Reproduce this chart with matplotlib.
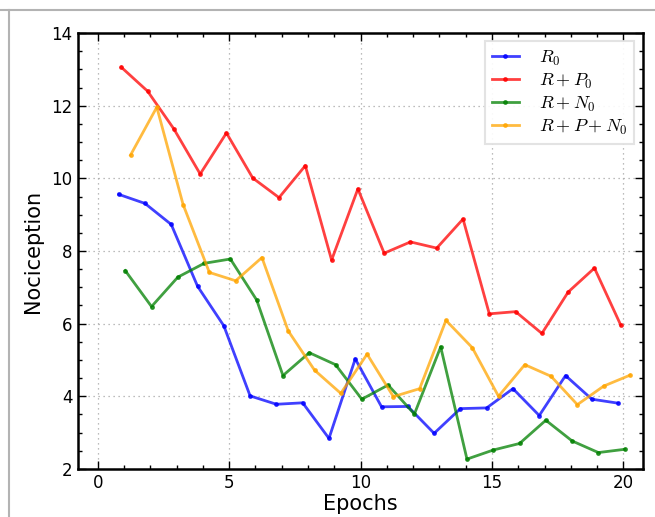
import matplotlib
matplotlib.use("Agg")
import matplotlib.pyplot as plt
from matplotlib.lines import Line2D
from matplotlib.ticker import MultipleLocator
import numpy as np

# values
r0 = [9.56, 9.31, 8.73, 7.03, 5.94, 4.01, 3.78, 3.82, 2.84, 5.03,
      3.71, 3.72, 2.98, 3.66, 3.68, 4.21, 3.47, 4.57, 3.92, 3.81]
r_p0 = [13.06, 12.40, 11.36, 10.12, 11.25, 10.01, 9.47, 10.35, 7.75, 9.71,
        7.94, 8.25, 8.08, 8.88, 6.27, 6.33, 5.73, 6.87, 7.53, 5.96]
r_n0 = [7.46, 6.47, 7.28, 7.66, 7.78, 6.65, 4.57, 5.20, 4.87, 3.92,
        4.31, 3.51, 5.36, 2.27, 2.52, 2.70, 3.34, 2.77, 2.45, 2.54]
r_p_n0 = [10.64, 11.96, 9.28, 7.41, 7.18, 7.82, 5.80, 4.72, 4.08, 5.16,
          3.99, 4.21, 6.09, 5.34, 4.00, 4.87, 4.55, 3.77, 4.28, 4.58]

epochs = np.arange(20)
# each run is drawn slightly shifted along the epoch axis
offsets = [0.8, 0.9, 1.05, 1.25]
series = [r0, r_p0, r_n0, r_p_n0]
labels = [r'$R_0$', r'$R+P_0$', r'$R+N_0$', r'$R+P+N_0$']
colors = ['blue', 'red', 'green', 'orange']

plt.rcParams['mathtext.fontset'] = 'cm'

fig = plt.figure(figsize=(6.55, 5.17), dpi=100)
ax = fig.add_axes([0.119, 0.093, 0.862, 0.843])

for ys, off, lab, c in zip(series, offsets, labels, colors):
    ax.plot(epochs + off, ys, color=c, alpha=0.75, lw=2, marker='.',
            markersize=5, label=lab)

ax.set_xlim(-0.75, 20.73)
ax.set_ylim(2, 14)
ax.xaxis.set_major_locator(MultipleLocator(5))
ax.xaxis.set_minor_locator(MultipleLocator(1))
ax.yaxis.set_major_locator(MultipleLocator(2))
ax.yaxis.set_minor_locator(MultipleLocator(0.5))
ax.tick_params(which='both', direction='in', top=True, right=True,
               labelsize=12, pad=4)
ax.tick_params(which='major', length=5.5, width=1)
ax.tick_params(which='minor', length=3, width=1)
for sp in ax.spines.values():
    sp.set_linewidth(1.8)
ax.grid(True, linestyle=(0, (1, 3)), color='0.65', linewidth=0.9)

ax.set_xlabel('Epochs', fontsize=15, labelpad=1)
ax.set_ylabel('Nociception', fontsize=15, labelpad=6)

leg = ax.legend(loc='upper right', fontsize=13, fancybox=False,
                framealpha=0.9, borderaxespad=0.45, labelspacing=0.22,
                handlelength=1.5, handletextpad=1.1, borderpad=0.4)
leg.get_frame().set_edgecolor('0.88')
leg.get_frame().set_linewidth(1.5)

# grey frame lines along the top and left of the figure
fig.add_artist(Line2D([0, 1], [0.981, 0.981], color='0.7', lw=1.5,
                      transform=fig.transFigure))
fig.add_artist(Line2D([0.013, 0.013], [0, 0.981], color='0.7', lw=1.5,
                      transform=fig.transFigure))

fig.savefig('out.png', dpi=100)
